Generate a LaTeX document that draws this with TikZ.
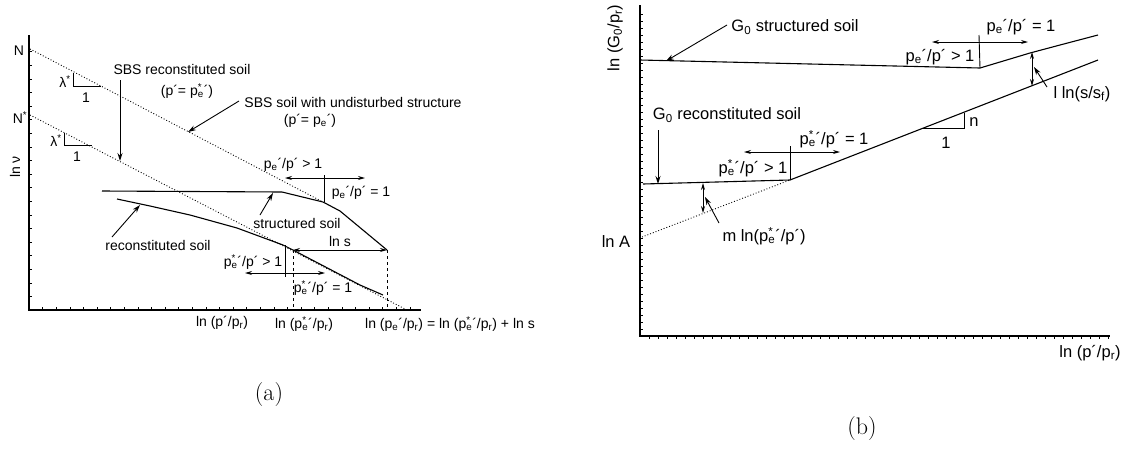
\documentclass[tikz,border=0pt]{standalone}
\usepackage{fontspec}
\setmainfont{Liberation Sans}
\newfontfamily\lmfont{Latin Modern Roman}
\usetikzlibrary{arrows.meta}
\newcommand\pe{p\textsubscript{e}}
\newcommand\pse{p\rlap{\textsuperscript{*}}\textsubscript{e}}
\newcommand\prr{p\textsubscript{r}}
\tikzset{
  lbla/.style={font=\fontsize{14}{16}\selectfont, inner sep=0pt},
  lblb/.style={font=\fontsize{16.5}{19}\selectfont, inner sep=0pt},
  capt/.style={font=\lmfont\fontsize{24}{28}\selectfont, inner sep=0pt},
  axis/.style={line width=1.8pt},
  tickm/.style={line width=0.6pt},
  curve/.style={line width=1.1pt, line join=round},
  dots/.style={line width=0.9pt, dotted},
  dashl/.style={line width=1pt, dashed},
  thin/.style={line width=0.9pt},
  ptr/.style={line width=0.9pt, -{Stealth[length=8pt,width=5pt]}},
  dbl/.style={line width=0.9pt, {Stealth[length=7pt,width=4pt]}-{Stealth[length=7pt,width=4pt]}},
}
\begin{document}
\begin{tikzpicture}[x=1pt,y=-1pt]
\useasboundingbox (0,0) rectangle (1125,448);
% ================= panel (a) =================
\coordinate (aY) at (29,35);
\coordinate (aO) at (29,310);
\coordinate (aX) at (421,310);
\draw[axis] (aY) -- (aO) -- (aX);
\foreach \i in {1,...,19} \draw[tickm] (29,310-13.6*\i) -- ++(3,0);
\foreach \i in {1,...,28} \draw[tickm] (29+13.6*\i,310) -- ++(0,-3);
\node[lbla] (nN) at (19,51) {N};
\node[lbla] (nNs) at (20,118) {N\textsuperscript{*}};
\node[lbla, rotate=90] (lnv) at (15,167) {ln ν};
% normal compression lines
\coordinate (uN) at (30,49);
\coordinate (uK) at (323,202);
\coordinate (lN) at (30,115);
\coordinate (lE) at (407,310);
\draw[dots] (uN) -- (uK);
\draw[dots] (lN) -- (lE);
% slope triangles
\draw[thin] (73,73) -- (73,86) -- (101,86);
\node[lbla] (lam1) at (65,82) {λ\textsuperscript{*}};
\node[lbla] (one1) at (86,98) {1};
\draw[thin] (64,133) -- (64,145) -- (92,145);
\node[lbla] (lam2) at (56,141) {λ\textsuperscript{*}};
\node[lbla] (one2) at (77,157) {1};
% curves
\draw[curve] (102,191) -- (282,192) -- (uK) -- (340,211) -- (387,250);
\draw[curve] (117,199) -- (150,206) -- (190,215) -- (237,228) -- (283,245) -- (293,250) -- (360,285) -- (383,295);
% labels and arrows
\node[lbla] (sbsr) at (182,69) {SBS reconstituted soil};
\node[lbla] (sbsr2) at (187,91) {(p´= \pse´)};
\coordinate (ar1s) at (120,80);
\coordinate (ar1e) at (120,161);
\draw[ptr] (ar1s) -- (ar1e);
\node[lbla] (sbsu) at (353,102) {SBS soil with undisturbed structure};
\node[lbla] (sbsu2) at (310,121) {(p´= \pe´)};
\coordinate (ar2s) at (239,101);
\coordinate (ar2e) at (188,132);
\draw[ptr] (ar2s) -- (ar2e);
\node[lbla] (strl) at (297,223) {structured soil};
\coordinate (ar3s) at (260,215);
\coordinate (ar3e) at (273,193);
\draw[ptr] (ar3s) -- (ar3e);
\node[lbla] (recl) at (158,245) {reconstituted soil};
\coordinate (ar4s) at (112,237);
\coordinate (ar4e) at (140,205);
\draw[ptr] (ar4s) -- (ar4e);
% upper yield arrows
\node[lbla] (ug1) at (293,165) {\pe´/p´ > 1};
\coordinate (ua1) at (285,178);
\coordinate (ua2) at (365,178);
\draw[dbl] (ua1) -- (ua2);
\draw[thin] (324,175) -- (324,202);
\node[lbla] (ue1) at (361,193) {\pe´/p´ = 1};
% ln s
\node[lbla] (lns) at (340,241) {ln s};
\coordinate (s1) at (293,250);
\coordinate (s2) at (387,250);
\draw[dbl] (s1) -- (s2);
\coordinate (s1b) at (293,310);
\coordinate (s2b) at (387,310);
\draw[dashl] (s1) -- (s1b);
\draw[dashl] (s2) -- (s2b);
% lower yield arrows
\node[lbla] (lg1) at (253,262) {\pse´/p´ > 1};
\coordinate (la1) at (245,273);
\coordinate (la2) at (325,273);
\draw[dbl] (la1) -- (la2);
\draw[thin] (285,245) -- (285,277);
\node[lbla] (le1) at (323,288) {\pse´/p´ = 1};
% axis labels
\node[lbla] (ax1) at (222,323) {ln (p´/\prr)};
\node[lbla] (ax2) at (304,324) {ln (\pse´/\prr)};
\node[lbla] (ax3) at (450,324) {ln (\pe´/\prr) = ln (\pse´/\prr) + ln s};
\node[capt] (capa) at (269,395) {(a)};
% ================= panel (b) =================
\coordinate (bY) at (640,5);
\coordinate (bO) at (640,336);
\coordinate (bX) at (1110,336);
\draw[axis] (bY) -- (bO) -- (bX);
\foreach \i in {1,...,46} \draw[tickm] (640,336-7*\i) -- ++(3,0);
\foreach \i in {1,...,52} \draw[tickm] (640+9*\i,336) -- ++(0,3);
\node[lblb, rotate=90] (bylab) at (615,38) {ln (G\textsubscript{0}/\prr)};
\node[lblb] (bxlab) at (1090,353) {ln (p´/\prr)};
\node[lblb] (lnA) at (616,242) {ln A};
% G0 lines
\coordinate (gk) at (980,68);
\draw[curve] (640,60) -- (gk) -- (1030,53) -- (1060,45) -- (1098,35);
\coordinate (rk) at (790,180);
\draw[curve] (643,184) -- (rk) -- (1098,60);
\coordinate (lnAp) at (642,237);
\draw[dots] (lnAp) -- (rk);
% labels
\node[lblb] (g0s) at (795,27) {G\textsubscript{0} structured soil};
\coordinate (br1s) at (727,25);
\coordinate (br1e) at (666,61);
\draw[ptr] (br1s) -- (br1e);
\node[lblb] (g0r) at (727,115) {G\textsubscript{0} reconstituted soil};
\coordinate (br2s) at (658,130);
\coordinate (br2e) at (658,184);
\draw[ptr] (br2s) -- (br2e);
% upper yield
\node[lblb] (bue) at (1021,27) {\pe´/p´ = 1};
\coordinate (bu1) at (932,42);
\coordinate (bu2) at (1028,42);
\draw[dbl] (bu1) -- (bu2);
\draw[thin] (979,35) -- (gk);
\node[lblb] (bug) at (940,57) {\pe´/p´ > 1};
% lower yield
\node[lblb] (ble) at (834,139) {\pse´/p´ = 1};
\coordinate (bl1) at (744,152);
\coordinate (bl2) at (840,152);
\draw[dbl] (bl1) -- (bl2);
\draw[thin] (790,146) -- (rk);
\node[lblb] (blg) at (753,168) {\pse´/p´ > 1};
% slope triangle
\draw[thin] (923,128) -- (964,128) -- (964,113);
\node[lblb] (nn) at (974,122) {n};
\node[lblb] (n1) at (946,143) {1};
% l ln(s/sf)
\coordinate (lt) at (1032,52);
\coordinate (lb) at (1032,86);
\draw[dbl] (lt) -- (lb);
\coordinate (lps) at (1047,87);
\coordinate (lpe) at (1034,67);
\draw[ptr] (lps) -- (lpe);
\node[lblb] (llab) at (1082,94) {l ln(s/s\textsubscript{f})};
% m ln
\coordinate (mt) at (703,183);
\coordinate (mb) at (703,213);
\draw[dbl] (mt) -- (mb);
\coordinate (mps) at (719,223);
\coordinate (mpe) at (705,197);
\draw[ptr] (mps) -- (mpe);
\node[lblb] (mlab) at (764,236) {m ln(\pse´/p´)};
\node[capt] (capb) at (862,429) {(b)};
\end{tikzpicture}
\end{document}
